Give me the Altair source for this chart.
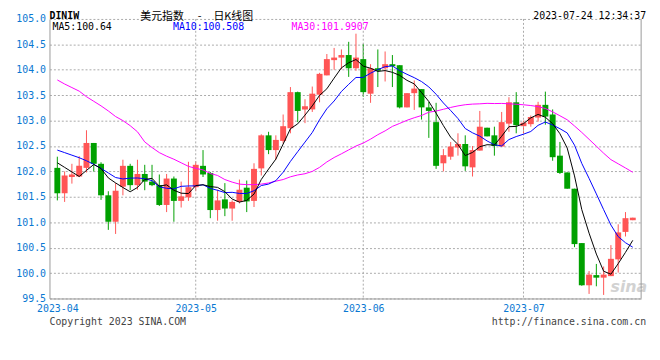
import altair as alt
import pandas as pd

# ---------------- data ----------------
dates = [d.strftime("%Y-%m-%d") for d in pd.bdate_range("2023-04-03", "2023-07-24")
         if d.strftime("%Y-%m-%d") != "2023-04-07"]

opens = [102.07, 101.57, 101.89, 101.90, 102.07, 102.56, 102.15, 101.53, 101.01, 101.70,
         102.11, 101.73, 101.95, 101.80, 101.73, 101.34, 101.86, 101.42, 101.49, 101.69,
         102.11, 101.97, 101.24, 101.45, 101.27, 101.40, 101.68, 101.42, 102.06, 102.71,
         102.42, 102.60, 102.85, 103.56, 103.22, 103.22, 103.51, 103.89, 104.19, 104.24,
         104.29, 104.03, 104.21, 103.53, 104.03, 104.03, 104.11, 104.09, 103.26, 103.54,
         103.62, 103.26, 102.97, 102.16, 102.29, 102.47, 102.54, 102.08, 102.41, 102.86,
         102.71, 102.49, 102.94, 103.36, 102.89, 102.93, 103.06, 103.31, 103.12, 102.31,
         101.98, 101.66, 100.59, 99.76, 99.96, 99.91, 99.94, 100.27, 100.81, 101.04]
highs = [102.29, 102.00, 102.15, 102.30, 102.81, 102.56, 102.18, 101.61, 101.77, 102.23,
         102.15, 102.23, 102.13, 102.13, 101.94, 101.95, 101.90, 101.80, 102.19, 102.20,
         102.42, 101.99, 101.64, 101.77, 101.43, 101.84, 101.82, 102.16, 102.73, 102.78,
         102.71, 103.12, 103.66, 103.57, 103.42, 103.67, 103.94, 104.31, 104.43, 104.40,
         104.55, 104.71, 104.51, 104.11, 104.40, 104.36, 104.29, 104.09, 103.54, 103.79,
         103.62, 103.37, 103.35, 102.44, 102.58, 102.75, 102.71, 102.50, 103.19, 102.86,
         102.88, 103.17, 103.46, 103.56, 103.00, 103.10, 103.37, 103.57, 103.22, 102.58,
         101.98, 101.66, 100.59, 100.04, 100.18, 100.13, 100.55, 100.96, 101.20, 101.09]
lows = [101.43, 101.40, 101.76, 101.89, 101.98, 102.00, 101.44, 100.85, 100.77, 101.53,
        101.63, 101.64, 101.63, 101.71, 101.32, 101.20, 101.01, 101.29, 101.42, 101.61,
        101.89, 101.08, 101.03, 101.12, 101.03, 101.37, 101.20, 101.30, 101.92, 102.34,
        102.23, 102.55, 102.75, 102.97, 102.95, 103.17, 103.36, 103.89, 104.00, 104.01,
        103.86, 103.98, 103.47, 103.35, 103.66, 103.77, 103.66, 103.24, 103.26, 103.21,
        103.02, 102.66, 102.05, 102.00, 102.23, 102.31, 102.01, 101.90, 102.41, 102.69,
        102.31, 102.49, 102.78, 102.75, 102.75, 102.88, 102.98, 102.92, 102.21, 101.95,
        101.66, 100.51, 99.75, 99.59, 99.74, 99.57, 99.94, 100.01, 100.72, 101.04]
closes = [101.57, 101.92, 101.94, 102.11, 102.56, 102.15, 101.53, 101.01, 101.62, 102.11,
          101.73, 101.95, 101.80, 101.73, 101.34, 101.86, 101.42, 101.51, 101.69, 102.13,
          101.94, 101.24, 101.43, 101.27, 101.40, 101.64, 101.41, 102.05, 102.71, 102.42,
          102.62, 102.89, 103.56, 103.19, 103.28, 103.53, 103.92, 104.21, 104.24, 104.29,
          104.03, 104.24, 103.56, 104.03, 103.98, 104.11, 104.07, 103.26, 103.54, 103.63,
          103.26, 103.19, 102.11, 102.32, 102.49, 102.54, 102.10, 102.42, 102.88, 102.69,
          102.50, 102.97, 103.36, 102.91, 102.96, 103.07, 103.31, 103.08, 102.28, 101.97,
          101.66, 100.57, 99.76, 99.97, 99.91, 99.97, 100.28, 100.80, 101.08, 101.09]

# moving-average values before a full window exists
ma5_head = [102.17, 102.08, 101.99, 101.90]
ma10_head = [102.42, 102.37, 102.32, 102.27, 102.21, 102.14, 102.06, 101.97, 101.88]
ma30_head = [103.80, 103.72, 103.65, 103.58, 103.47, 103.38, 103.29, 103.19, 103.08, 103.00,
             102.90, 102.78, 102.58, 102.47, 102.37, 102.30, 102.24, 102.17, 102.10, 102.06,
             102.03, 101.96, 101.92, 101.84, 101.79, 101.75, 101.74, 101.74, 101.75]

y_ticks = [99.5, 100.0, 100.5, 101.0, 101.5, 102.0, 102.5, 103.0, 103.5, 104.0, 104.5, 105.0]
legend_texts = ["MA5:100.64", "MA10:100.508", "MA30:101.9907"]
title_parts = ["美元指数", "-", "日K线图"]
code_text = "DINIW"
stamp_text = "2023-07-24 12:34:37"
footer_left = "Copyright 2023 SINA.COM"
footer_right = "http://finance.sina.com.cn"

# ---------------- table ----------------
df = pd.DataFrame({"i": range(len(dates)), "date": dates, "open": opens, "high": highs,
                   "low": lows, "close": closes})
s = pd.Series(closes)
ma5 = s.rolling(5).mean().tolist()
ma10 = s.rolling(10).mean().tolist()
ma30 = s.rolling(30).mean().tolist()
ma5[:len(ma5_head)] = ma5_head
ma10[:len(ma10_head)] = ma10_head
ma30[:len(ma30_head)] = ma30_head
df["ma5"], df["ma10"], df["ma30"] = ma5, ma10, ma30

month_idx, month_lab = [], []
for k, d in enumerate(dates):
    m = d[:7]
    if m not in month_lab:
        month_lab.append(m)
        month_idx.append(k)
label_expr = " : ".join(f"datum.value == {p} ? '{l}'" for p, l in zip(month_idx, month_lab)) + " : ''"

# ---------------- style ----------------
W, H = 599, 283
MONO = "DejaVu Sans Mono"
CJK = "Noto Sans CJK SC"
BLUE_LBL = "#0a78d2"
RED = "#ff5555"
GREEN = "#00a000"
GRID = "#aaaaaa"
FRAME = "#999999"

xscale = alt.Scale(domain=[-0.4, 79.47], nice=False, zero=False)
yscale = alt.Scale(domain=[99.5, 105.0], nice=False, zero=False)

xaxis = alt.Axis(values=month_idx, labelExpr=label_expr, grid=False, ticks=False,
                 domainColor=FRAME, labelColor=BLUE_LBL, labelFont=MONO,
                 labelFontSize=10, labelPadding=5, title=None, labelOverlap=False)
yaxis = alt.Axis(values=y_ticks, format=".1f", grid=True, gridDash=[2, 2],
                 gridColor=GRID, ticks=False, domainColor=FRAME, tickCount=12,
                 labelColor=BLUE_LBL, labelFont=MONO, labelFontSize=10,
                 labelPadding=4, title=None, labelOverlap=False)

X = alt.X("i:Q", scale=xscale, axis=xaxis)

base = alt.Chart(df)
color_cond = alt.condition("datum.close >= datum.open", alt.value(RED), alt.value(GREEN))

wicks = base.mark_rule(strokeWidth=1).encode(
    x=X, y=alt.Y("low:Q", scale=yscale, axis=yaxis), y2="high:Q", color=color_cond)
bodies = base.mark_bar(size=6).encode(
    x=X, y=alt.Y("open:Q", scale=yscale, axis=yaxis), y2="close:Q", color=color_cond)

def ma_line(field, col):
    return base.mark_line(strokeWidth=1, color=col).encode(
        x=X, y=alt.Y(f"{field}:Q", scale=yscale, axis=yaxis))

vgrid = alt.Chart(pd.DataFrame({"i": month_idx[1:]})).mark_rule(
    color=GRID, strokeDash=[2, 2], strokeWidth=1).encode(x=X)

right_frame = alt.Chart(pd.DataFrame({"a": [0]})).mark_rule(color=FRAME, strokeWidth=1).encode(
    x=alt.value(W), y=alt.value(0), y2=alt.value(H))

def label(text, x, y, color="#000000", size=10, font=MONO, align="left", **kw):
    return alt.Chart(pd.DataFrame({"t": [text]})).mark_text(
        align=align, baseline="middle", font=font, fontSize=size, color=color, **kw
    ).encode(x=alt.value(x), y=alt.value(y), text="t:N")

watermark = label("sina", 568, 271, color="#d2d2d2", size=16, font="DejaVu Sans",
                  fontStyle="italic", fontWeight="bold")

texts = [
    label(code_text, 0, -3, size=10, fontWeight="bold"),
    label(title_parts[0], 92, -1.5, font=CJK, size=11),
    label(title_parts[1], 150, -1.5, font=CJK, size=11),
    label(title_parts[2], 166, -1.5, font=CJK, size=11),
    label(stamp_text, 604, -3, size=10, align="right"),
    label(legend_texts[0], 3, 8.5, color="#000000", size=10),
    label(legend_texts[1], 125, 8.5, color="#0000ff", size=10),
    label(legend_texts[2], 245, 8.5, color="#ff00ff", size=10),
    label(footer_left, 0, 306.5, color="#444444", size=10),
    label(footer_right, 604, 306.5, color="#444444", size=10, align="right"),
]

chart = alt.layer(
    wicks, vgrid, watermark, bodies,
    ma_line("ma30", "#ff00ff"), ma_line("ma10", "#0000ff"), ma_line("ma5", "#000000"),
    right_frame, *texts
).properties(
    width=W, height=H,
    autosize=alt.AutoSizeParams(type="none"),
    padding={"left": 42, "top": 9, "right": 11, "bottom": 45},
    background="white",
).configure_view(stroke=None).configure_axis(labelOverlap=False)

chart.save("out.html", embed_options={"renderer": "svg", "actions": False})
